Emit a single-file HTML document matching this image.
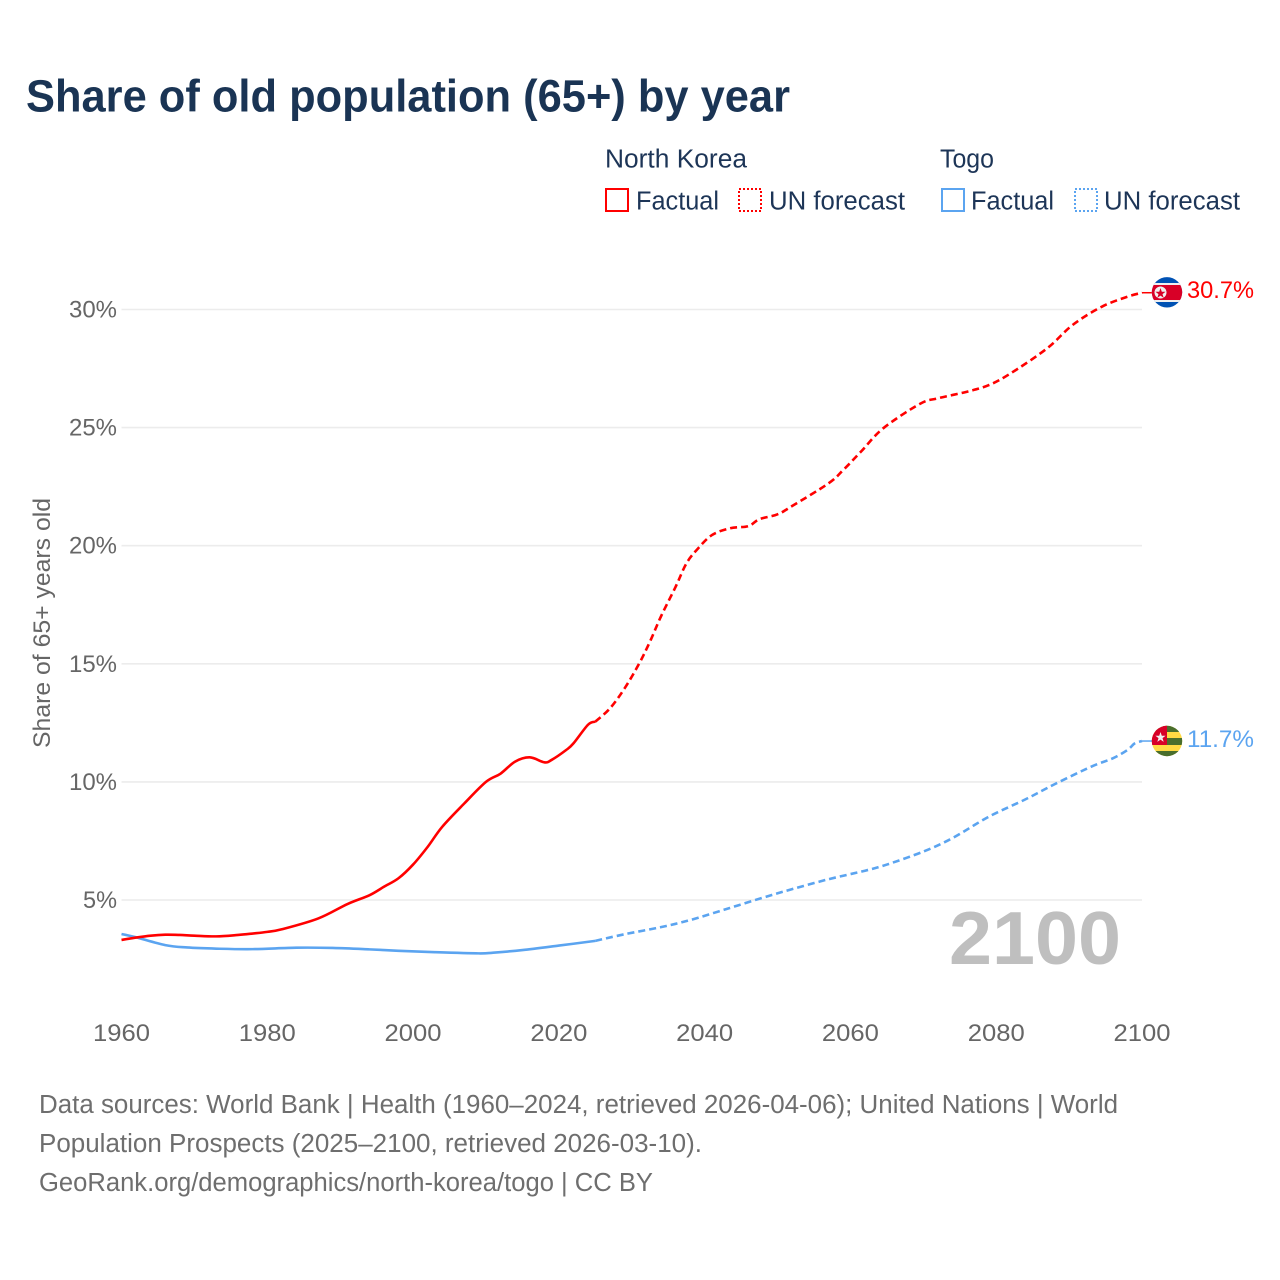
<!DOCTYPE html>
<html lang="en">
<head>
<meta charset="utf-8">
<title>Share of old population (65+) by year</title>
<style>
html,body{margin:0;padding:0;background:#fff;}
svg{display:block;font-family:"Liberation Sans",sans-serif;}
</style>
</head>
<body>
<svg id="chart" xmlns="http://www.w3.org/2000/svg" width="1280" height="1280" viewBox="0 0 1280 1280">
  <rect width="1280" height="1280" fill="#fff"/>
  <text x="26" y="111.5" font-size="45" font-weight="700" fill="#1a3454" textLength="764" lengthAdjust="spacingAndGlyphs">Share of old population (65+) by year</text>

  <g font-size="25.5" fill="#1d3557">
    <text x="605" y="167.5" textLength="142" lengthAdjust="spacingAndGlyphs">North Korea</text>
    <text x="940" y="167.5" textLength="54" lengthAdjust="spacingAndGlyphs">Togo</text>
    <rect x="606" y="189" width="22" height="22" fill="none" stroke="#ff0000" stroke-width="2"/>
    <text x="636" y="209.5" textLength="83" lengthAdjust="spacingAndGlyphs">Factual</text>
    <rect x="739" y="189" width="22" height="22" fill="none" stroke="#ff0000" stroke-width="2" stroke-dasharray="2 2"/>
    <text x="769" y="209.5" textLength="136" lengthAdjust="spacingAndGlyphs">UN forecast</text>
    <rect x="942" y="189" width="22" height="22" fill="none" stroke="#5ba4f0" stroke-width="2"/>
    <text x="971" y="209.5" textLength="83" lengthAdjust="spacingAndGlyphs">Factual</text>
    <rect x="1075" y="189" width="22" height="22" fill="none" stroke="#5ba4f0" stroke-width="2" stroke-dasharray="2 2"/>
    <text x="1104" y="209.5" textLength="136" lengthAdjust="spacingAndGlyphs">UN forecast</text>
  </g>

  <g id="grid"></g>
  <g id="y-ticks"></g>
  <g id="x-ticks"></g>
  <text transform="translate(50 623) rotate(-90)" text-anchor="middle" font-size="24.5" fill="#666" textLength="250" lengthAdjust="spacingAndGlyphs">Share of 65+ years old</text>
  <text x="949" y="964" font-size="75" font-weight="700" fill="#bfbfbf" textLength="172" lengthAdjust="spacingAndGlyphs">2100</text>

  <g id="series"></g>

  <defs>
    <clipPath id="flag-clip-nk"><circle cx="1167" cy="292.3" r="15.2"/></clipPath>
    <clipPath id="flag-clip-tg"><circle cx="1167" cy="741" r="15.2"/></clipPath>
  </defs>
  <g clip-path="url(#flag-clip-nk)">
    <rect x="1151" y="277" width="32" height="31" fill="#0052b4"/>
    <rect x="1151" y="283" width="32" height="19" fill="#f0f0f0"/>
    <rect x="1151" y="285" width="32" height="15" fill="#d80027"/>
    <circle cx="1160.5" cy="292.5" r="6" fill="#f0f0f0"/>
    <polygon points="1160.5,288 1161.8,291.7 1165.6,291.7 1162.5,294.1 1163.7,297.9 1160.5,295.6 1157.3,297.9 1158.5,294.1 1155.4,291.7 1159.2,291.7" fill="#d80027"/>
  </g>
  <g clip-path="url(#flag-clip-tg)">
    <rect x="1151" y="725" width="32" height="33" fill="#ffda44"/>
    <rect x="1151" y="725" width="32" height="7" fill="#496e2d"/>
    <rect x="1151" y="738" width="32" height="7" fill="#496e2d"/>
    <rect x="1151" y="751" width="32" height="7" fill="#496e2d"/>
    <rect x="1151" y="725" width="16" height="20" fill="#d80027"/>
    <polygon points="1160.5,732 1161.8,735.7 1165.6,735.7 1162.5,738.1 1163.7,741.9 1160.5,739.6 1157.3,741.9 1158.5,738.1 1155.4,735.7 1159.2,735.7" fill="#f0f0f0"/>
  </g>
  <text x="1187" y="298" font-size="24.5" fill="#ff0000" textLength="67" lengthAdjust="spacingAndGlyphs">30.7%</text>
  <text x="1187" y="747" font-size="24.5" fill="#5ba4f0" textLength="67" lengthAdjust="spacingAndGlyphs">11.7%</text>

  <g font-size="25.5" fill="#6e6e6e">
    <text x="39" y="1113" textLength="1079" lengthAdjust="spacingAndGlyphs">Data sources: World Bank | Health (1960–2024, retrieved 2026-04-06); United Nations | World</text>
    <text x="39" y="1152" textLength="663" lengthAdjust="spacingAndGlyphs">Population Prospects (2025–2100, retrieved 2026-03-10).</text>
    <text x="39" y="1191" textLength="614" lengthAdjust="spacingAndGlyphs">GeoRank.org/demographics/north-korea/togo | CC BY</text>
  </g>
</svg>

<script>
const yTickValues = [5, 10, 15, 20, 25, 30];
const yTickLabels = ["5%", "10%", "15%", "20%", "25%", "30%"];
const xTickYears = [1960, 1980, 2000, 2020, 2040, 2060, 2080, 2100];

const nkFactualYears = [1960, 1962, 1964, 1966, 1968, 1970, 1973, 1976, 1978, 1980, 1982, 1987, 1991, 1994, 1996, 1998, 2000, 2002, 2004, 2007, 2010, 2012, 2014, 2016, 2018, 2019, 2021, 2022, 2024, 2025];
const nkFactualValues = [3.31, 3.41, 3.49, 3.53, 3.52, 3.49, 3.46, 3.52, 3.58, 3.65, 3.76, 4.22, 4.83, 5.2, 5.56, 5.92, 6.5, 7.25, 8.1, 9.08, 10.0, 10.35, 10.86, 11.04, 10.83, 10.93, 11.35, 11.63, 12.42, 12.55];
const nkForecastYears = [2025, 2027, 2029, 2031, 2032.5, 2034, 2036, 2037.5, 2039, 2041, 2043.5, 2046, 2047.5, 2050, 2052, 2057, 2059, 2061.5, 2064.5, 2069.5, 2072, 2076, 2079, 2082, 2087, 2090.5, 2094.5, 2098, 2100];
const nkForecastValues = [12.55, 13.11, 13.95, 15.0, 15.94, 17.0, 18.25, 19.25, 19.85, 20.45, 20.74, 20.83, 21.12, 21.33, 21.68, 22.64, 23.2, 24.0, 24.97, 26.0, 26.24, 26.52, 26.8, 27.3, 28.36, 29.35, 30.12, 30.54, 30.71];

const tgFactualYears = [1960, 1962, 1966, 1969, 1973, 1978, 1984, 1989, 1994, 1998, 2003, 2009, 2011, 2015, 2020, 2025];
const tgFactualValues = [3.56, 3.42, 3.09, 2.99, 2.94, 2.92, 2.98, 2.97, 2.91, 2.85, 2.79, 2.74, 2.77, 2.88, 3.07, 3.27];
const tgForecastYears = [2025, 2029, 2034, 2038, 2043, 2048, 2052, 2057, 2062, 2065, 2070, 2074, 2079, 2084, 2088, 2093, 2096, 2098, 2099, 2100];
const tgForecastValues = [3.27, 3.55, 3.85, 4.15, 4.62, 5.1, 5.46, 5.88, 6.24, 6.5, 7.05, 7.62, 8.53, 9.26, 9.9, 10.64, 11.0, 11.35, 11.63, 11.73];

const SVG_NS = "http://www.w3.org/2000/svg";
const xScale = year => 121.5 + (year - 1960) * (1142 - 121.5) / 140;
const yScale = value => 1018.1 - value * 23.62;

function make(tag, parentId, attrs, text) {
  const el = document.createElementNS(SVG_NS, tag);
  for (const k in attrs) el.setAttribute(k, attrs[k]);
  if (text !== undefined) el.textContent = text;
  document.getElementById(parentId).appendChild(el);
  return el;
}

function smoothPath(years, values) {
  const p = years.map((yr, i) => [xScale(yr), yScale(values[i])]);
  let d = "M" + p[0][0].toFixed(2) + " " + p[0][1].toFixed(2);
  for (let i = 0; i < p.length - 1; i++) {
    const a = p[Math.max(i - 1, 0)], b = p[i], c = p[i + 1], e = p[Math.min(i + 2, p.length - 1)];
    const c1x = b[0] + (c[0] - a[0]) / 6, c1y = b[1] + (c[1] - a[1]) / 6;
    const c2x = c[0] - (e[0] - b[0]) / 6, c2y = c[1] - (e[1] - b[1]) / 6;
    d += "C" + c1x.toFixed(2) + " " + c1y.toFixed(2) + " " + c2x.toFixed(2) + " " + c2y.toFixed(2) + " " + c[0].toFixed(2) + " " + c[1].toFixed(2);
  }
  return d;
}

yTickValues.forEach((v, i) => {
  const line = make("line", "grid", {x1: xScale(1960), x2: xScale(2100), y1: yScale(v), y2: yScale(v), stroke: "#ececec", "stroke-width": 1.6});
  
  
  const label = make("text", "y-ticks", {x: 117, y: yScale(v) + 8, "text-anchor": "end", "font-size": 24.5, fill: "#666", textLength: yTickLabels[i].length === 2 ? 34 : 48, lengthAdjust: "spacingAndGlyphs"}, yTickLabels[i]);
  
  
});

xTickYears.forEach(yr => {
  const label = make("text", "x-ticks", {x: xScale(yr), y: 1041, "text-anchor": "middle", "font-size": 24.5, fill: "#666", textLength: 57, lengthAdjust: "spacingAndGlyphs"}, String(yr));
  
  
});

const tgFactualLine = make("path", "series", {d: smoothPath(tgFactualYears, tgFactualValues), fill: "none", stroke: "#5ba4f0", "stroke-width": 2.6});



const tgForecastLine = make("path", "series", {d: smoothPath(tgForecastYears, tgForecastValues), fill: "none", stroke: "#5ba4f0", "stroke-width": 2.6, "stroke-dasharray": "7 4"});



const nkFactualLine = make("path", "series", {d: smoothPath(nkFactualYears, nkFactualValues), fill: "none", stroke: "#ff0000", "stroke-width": 2.6});



const nkForecastLine = make("path", "series", {d: smoothPath(nkForecastYears, nkForecastValues), fill: "none", stroke: "#ff0000", "stroke-width": 2.6, "stroke-dasharray": "7 4"});



const nkLast = nkForecastValues[nkForecastValues.length - 1];
const nkConnector = make("line", "series", {x1: xScale(2100), x2: 1152, y1: yScale(nkLast), y2: yScale(nkLast), stroke: "#ff0000", "stroke-width": 1.5});



const tgLast = tgForecastValues[tgForecastValues.length - 1];
const tgConnector = make("line", "series", {x1: xScale(2100), x2: 1152, y1: yScale(tgLast), y2: yScale(tgLast), stroke: "#5ba4f0", "stroke-width": 1.5});


</script>
</body>
</html>
